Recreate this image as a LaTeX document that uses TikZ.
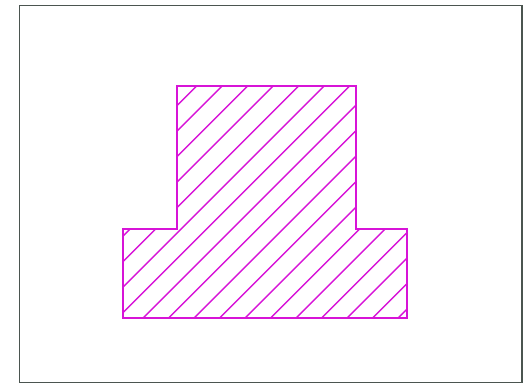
\documentclass[tikz,border=0pt]{standalone}
\definecolor{hatchmag}{RGB}{215,20,215}
\definecolor{framegray}{RGB}{75,85,80}
\tikzset{
  outline/.style={draw=hatchmag, line width=1.7pt, line join=miter},
  hatchline/.style={draw=hatchmag, line width=1.4pt},
  frameline/.style={draw=framegray, line width=1.7pt}
}
\begin{document}
\begin{tikzpicture}[x=1pt,y=-1pt]
\useasboundingbox (0,0) rectangle (528,384);
% frame
\draw[frameline] (19.5,5.5) rectangle (522,382.5);
% hatching clipped to the inverted-T shape
\begin{scope}
  \clip (177,86) -- (356,86) -- (356,229) -- (407,229) -- (407,318) -- (123,318) -- (123,229) -- (177,229) -- cycle;
  \foreach \k in {0,...,17} {
    \pgfmathsetmacro{\c}{282.7+25.5*\k}
    \draw[hatchline] (\c-400,400) -- (\c,0);
  }
\end{scope}
% outline
\draw[outline] (177,86) -- (356,86) -- (356,229) -- (407,229) -- (407,318) -- (123,318) -- (123,229) -- (177,229) -- cycle;
\end{tikzpicture}
\end{document}
